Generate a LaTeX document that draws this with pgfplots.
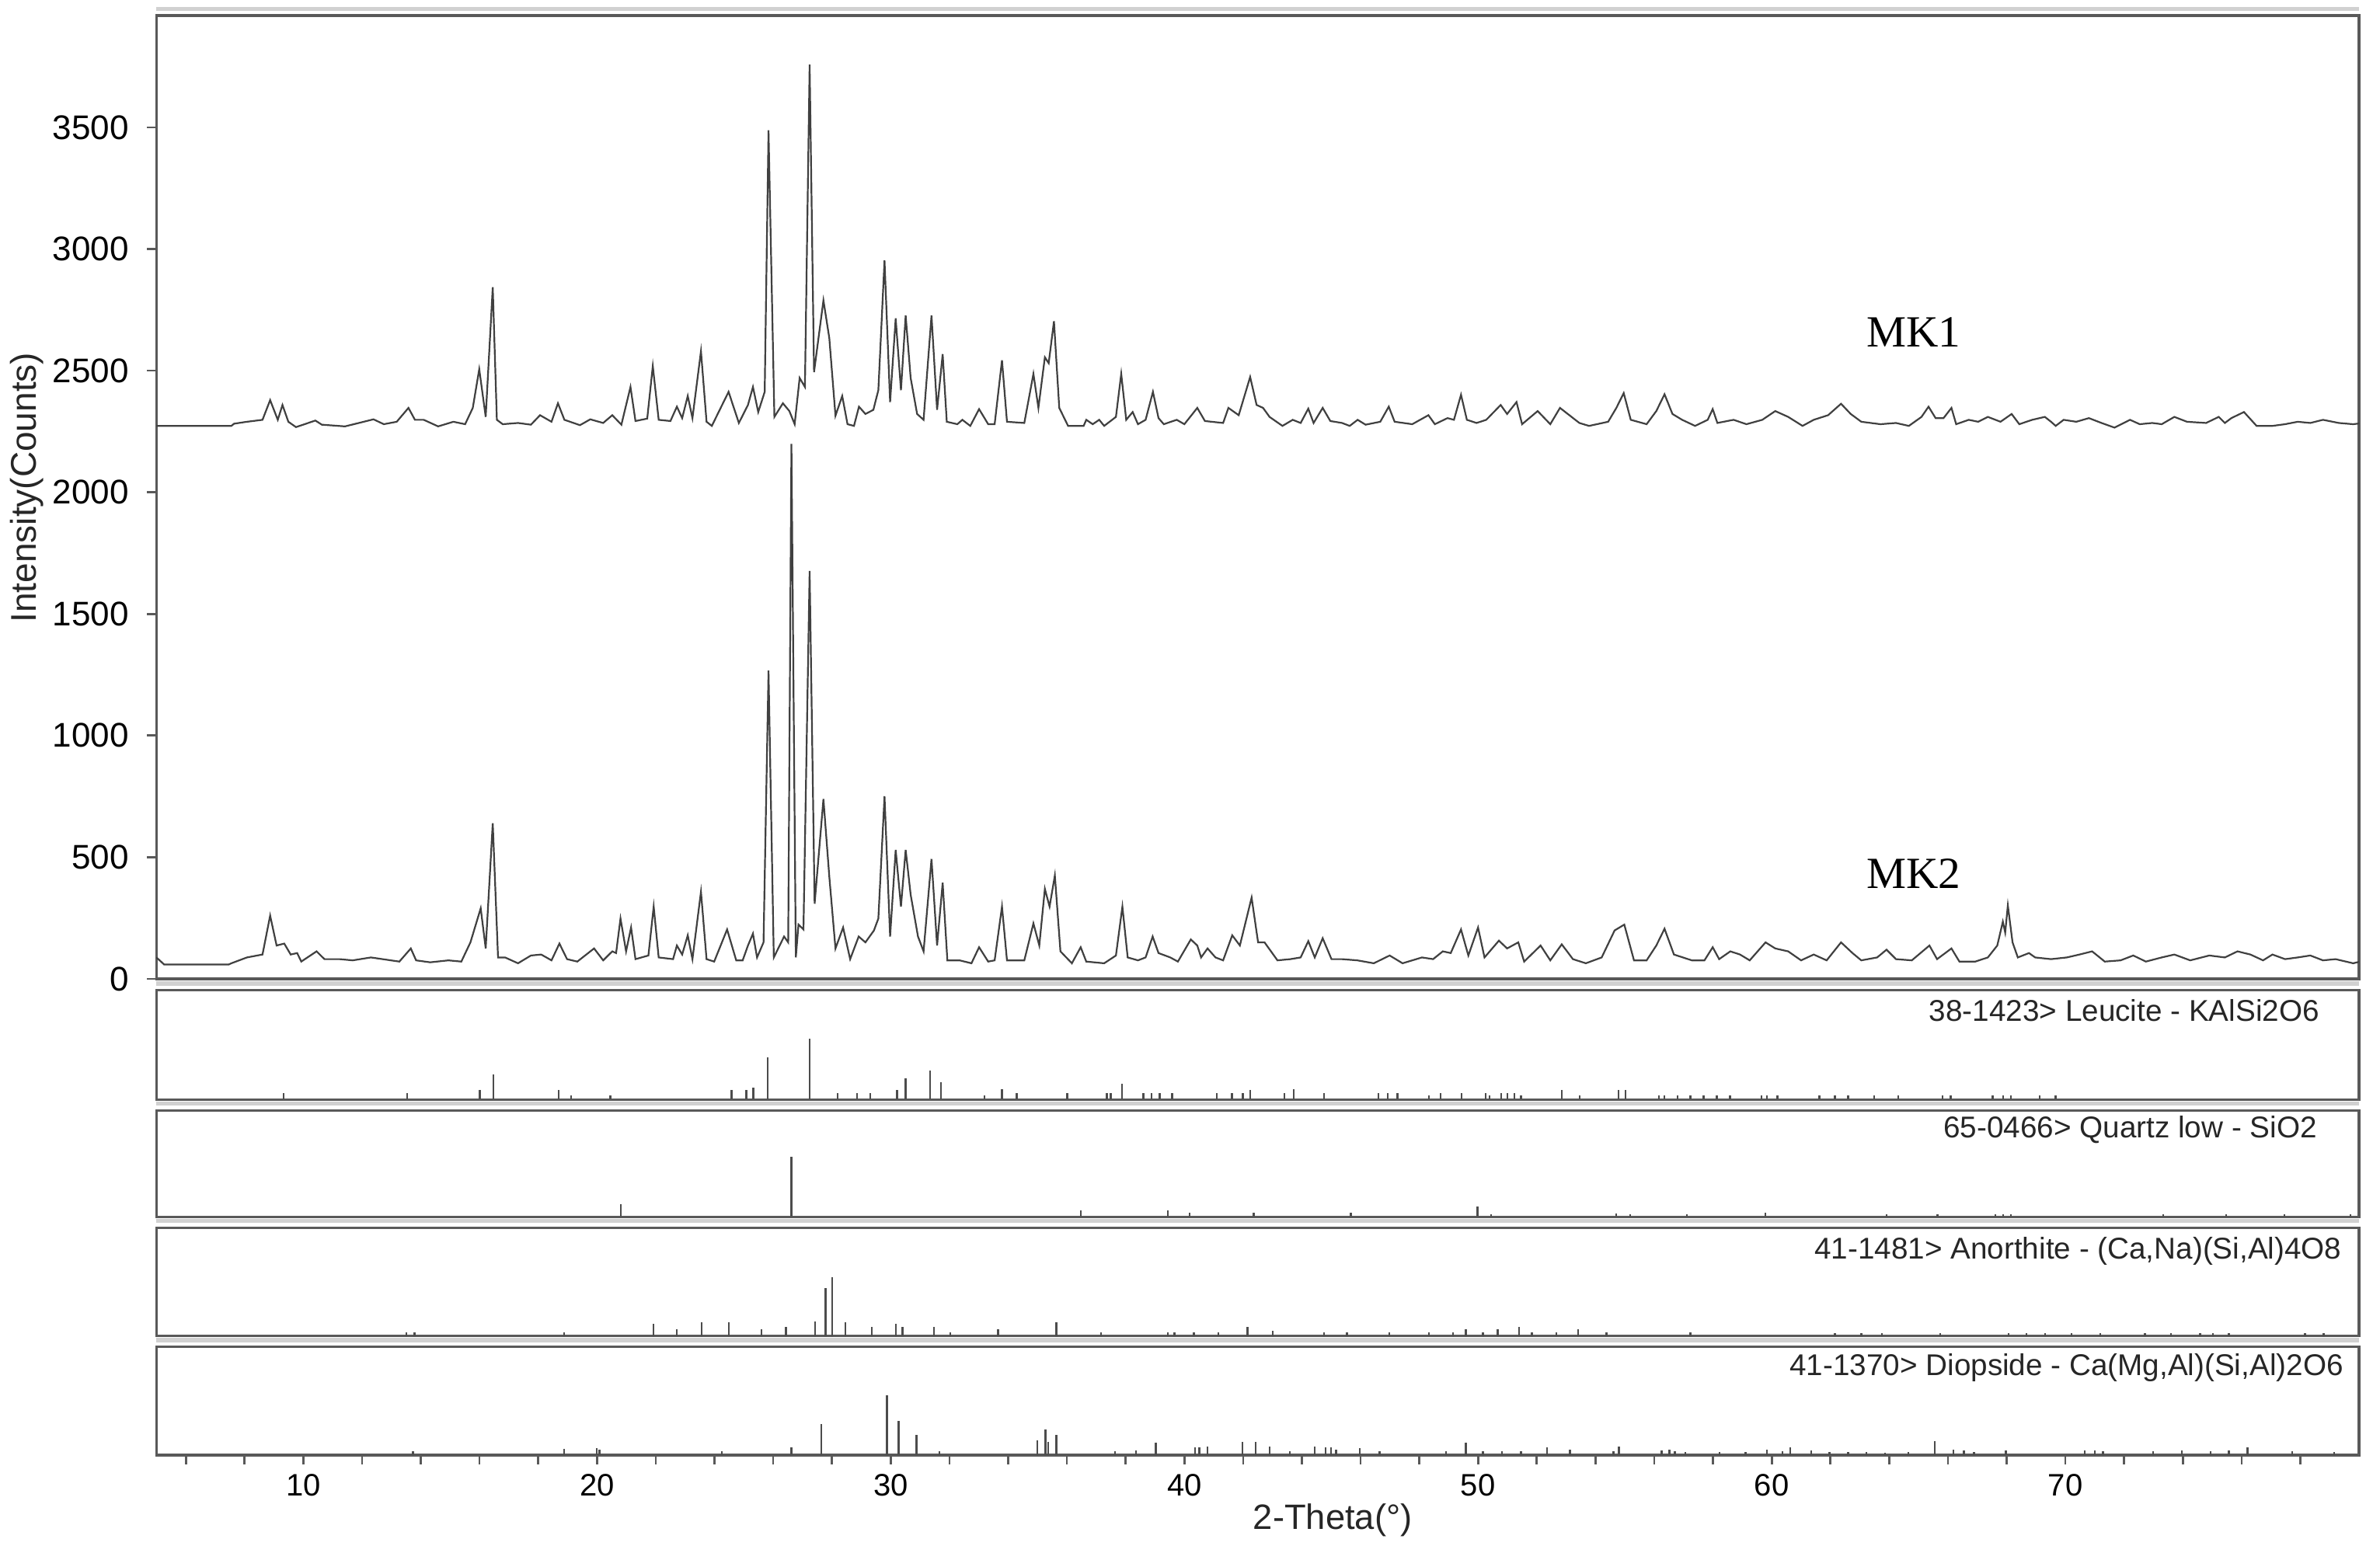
\documentclass[border=0pt]{standalone}
\usepackage{fontspec}
\setmainfont{Liberation Sans}
\newfontfamily\timesfont{Liberation Serif}
\usepackage{pgfplots}
\pgfplotsset{compat=1.18}
\usepackage{pgfplotstable}

% MK1 pattern (counts, shifted up in the original plot)
\pgfplotstableread{
x y
5.00 2273
7.55 2273
7.64 2282
8.08 2290
8.61 2298
8.87 2379
9.13 2298
9.29 2359
9.49 2290
9.75 2268
10.41 2295
10.63 2278
11.42 2271
12.39 2300
12.74 2280
13.18 2290
13.58 2347
13.80 2298
14.10 2298
14.59 2271
15.11 2290
15.51 2280
15.77 2347
15.99 2506
16.21 2310
16.45 2843
16.59 2298
16.79 2280
17.31 2285
17.75 2278
18.06 2317
18.45 2290
18.67 2366
18.89 2298
19.42 2276
19.77 2300
20.21 2285
20.52 2317
20.83 2278
21.14 2433
21.31 2293
21.71 2303
21.90 2519
22.10 2298
22.50 2293
22.72 2352
22.90 2305
23.09 2396
23.25 2305
23.54 2580
23.73 2290
23.91 2273
24.48 2413
24.83 2285
25.14 2359
25.31 2433
25.49 2330
25.71 2413
25.84 3488
26.04 2310
26.33 2366
26.55 2334
26.73 2280
26.90 2470
27.08 2433
27.24 3758
27.39 2494
27.71 2789
27.91 2634
28.12 2315
28.35 2396
28.53 2280
28.75 2273
28.92 2352
29.14 2322
29.41 2339
29.58 2420
29.79 2953
29.98 2371
30.17 2715
30.35 2420
30.51 2727
30.68 2470
30.90 2322
31.12 2298
31.39 2727
31.58 2339
31.77 2568
31.91 2290
32.27 2280
32.44 2298
32.71 2273
33.01 2342
33.32 2280
33.54 2280
33.79 2543
33.96 2290
34.55 2285
34.86 2487
35.03 2347
35.25 2555
35.38 2531
35.56 2703
35.74 2347
36.04 2273
36.57 2273
36.66 2298
36.88 2280
37.10 2298
37.27 2273
37.67 2310
37.85 2487
38.02 2298
38.24 2330
38.42 2280
38.68 2298
38.93 2413
39.12 2305
39.30 2280
39.74 2298
40.00 2280
40.44 2347
40.70 2293
41.32 2285
41.50 2347
41.85 2317
42.24 2474
42.46 2359
42.68 2347
42.90 2310
43.34 2273
43.69 2298
43.96 2285
44.22 2344
44.40 2285
44.71 2347
44.97 2293
45.37 2285
45.63 2273
45.90 2298
46.17 2278
46.67 2290
46.96 2352
47.16 2290
47.76 2280
48.31 2317
48.53 2280
48.96 2305
49.18 2298
49.42 2401
49.62 2298
49.95 2285
50.28 2298
50.77 2359
50.99 2322
51.31 2371
51.50 2280
52.03 2334
52.46 2280
52.79 2347
53.45 2285
53.78 2273
54.43 2290
54.71 2347
54.96 2408
55.20 2298
55.74 2280
56.07 2334
56.35 2403
56.62 2322
56.95 2298
57.39 2273
57.82 2298
57.99 2342
58.15 2285
58.70 2298
59.14 2280
59.68 2298
60.12 2334
60.56 2310
61.05 2273
61.43 2298
61.92 2317
62.36 2364
62.69 2322
63.05 2290
63.70 2280
64.23 2285
64.67 2273
65.10 2310
65.34 2352
65.58 2305
65.85 2305
66.12 2347
66.28 2280
66.71 2298
67.03 2290
67.36 2310
67.79 2290
68.17 2322
68.43 2280
68.87 2298
69.30 2310
69.51 2290
69.67 2273
69.94 2298
70.37 2290
70.80 2305
71.23 2285
71.67 2266
72.20 2298
72.53 2280
72.96 2285
73.28 2280
73.71 2310
74.14 2290
74.79 2285
75.22 2310
75.43 2285
75.65 2305
76.08 2330
76.51 2273
77.05 2273
77.48 2280
77.91 2290
78.34 2285
78.77 2298
79.31 2285
79.80 2280
80.00 2283
}\mkone

% MK2 pattern
\pgfplotstableread{
x y
5.00 88
5.26 59
7.46 59
7.55 64
8.08 88
8.61 100
8.87 260
9.09 137
9.35 145
9.57 100
9.79 106
9.93 71
10.45 113
10.72 81
11.24 81
11.68 76
12.30 88
13.27 71
13.66 125
13.84 76
14.32 68
14.94 76
15.38 71
15.69 150
16.04 290
16.21 125
16.45 640
16.63 88
16.87 88
17.31 64
17.75 96
18.10 100
18.45 76
18.72 145
18.98 81
19.33 71
19.90 125
20.21 76
20.52 113
20.65 106
20.80 248
20.99 113
21.16 211
21.31 81
21.75 96
21.93 297
22.10 88
22.59 81
22.72 137
22.90 100
23.09 179
23.25 81
23.54 358
23.73 81
23.99 71
24.43 203
24.74 76
24.96 76
25.14 137
25.31 186
25.45 88
25.67 150
25.84 1267
26.02 88
26.37 174
26.51 150
26.62 2199
26.77 88
26.86 223
27.03 203
27.24 1677
27.41 309
27.71 739
27.91 420
28.12 125
28.38 211
28.62 81
28.91 174
29.14 150
29.43 199
29.58 248
29.79 751
29.98 174
30.17 530
30.35 297
30.51 530
30.68 346
30.93 174
31.12 113
31.39 493
31.58 137
31.77 395
31.93 76
32.35 76
32.75 64
33.01 130
33.32 71
33.54 76
33.79 297
33.96 76
34.55 76
34.86 228
35.06 137
35.25 370
35.41 297
35.59 425
35.78 113
36.17 64
36.47 130
36.66 71
37.27 64
37.67 96
37.89 297
38.07 88
38.42 76
38.68 88
38.92 174
39.12 106
39.52 88
39.78 71
40.22 162
40.44 137
40.57 88
40.79 125
41.06 88
41.32 76
41.63 179
41.89 137
42.29 334
42.51 150
42.73 150
43.17 76
43.61 81
43.96 88
44.22 155
44.44 88
44.71 167
45.01 81
45.37 81
45.89 76
46.45 64
46.99 96
47.43 64
48.09 88
48.47 81
48.80 113
49.07 106
49.42 203
49.67 96
50.00 211
50.22 88
50.71 157
50.99 125
51.37 150
51.57 71
52.13 137
52.46 76
52.85 142
53.23 81
53.67 64
54.21 88
54.65 199
54.98 223
55.31 76
55.74 76
56.07 137
56.35 206
56.67 100
57.28 76
57.71 76
57.99 130
58.21 81
58.59 113
58.92 100
59.25 76
59.79 150
60.12 125
60.56 113
61.00 76
61.43 100
61.87 76
62.36 150
62.75 106
63.05 76
63.59 88
63.91 120
64.23 81
64.77 76
65.37 137
65.63 81
66.12 125
66.39 71
66.93 71
67.36 88
67.68 137
67.87 235
67.95 190
68.04 302
68.20 150
68.38 88
68.76 106
68.97 88
69.51 81
70.05 88
70.48 100
70.91 113
71.34 71
71.88 76
72.31 96
72.74 71
73.28 88
73.71 100
74.25 76
74.90 96
75.43 88
75.86 113
76.30 100
76.73 76
77.05 100
77.48 81
77.91 88
78.34 96
78.77 76
79.20 81
79.80 64
80.00 70
}\mktwo

% reference patterns, heights in % of panel
\pgfplotstableread{
x y
9.33 5.7
13.53 5.7
16.01 8.4
16.47 22.8
18.69 8.4
19.12 3.4
20.45 3.4
24.58 8.4
25.08 8.4
25.32 11.1
25.82 38.6
27.24 55.4
28.20 5.7
28.85 5.7
29.31 5.7
30.22 8.4
30.51 19.1
31.35 26.2
31.72 16.1
33.20 3.4
33.79 9.1
34.29 5.7
36.01 5.7
37.36 5.7
37.49 5.7
37.88 14.1
38.60 5.7
38.88 5.7
39.16 5.7
39.58 5.7
41.10 5.7
41.62 5.7
41.99 5.7
42.25 8.4
43.41 5.7
43.73 9.1
44.75 5.7
46.60 5.7
46.93 5.7
47.26 5.7
48.32 3.4
48.72 5.7
49.43 5.7
50.26 5.7
50.39 4.0
50.78 5.7
51.00 5.7
51.24 5.7
51.46 3.4
52.85 8.4
53.46 3.4
54.79 8.4
55.02 8.4
56.16 3.4
56.34 3.4
56.79 3.4
57.23 3.4
57.68 3.4
58.13 3.4
58.58 3.4
59.65 3.4
59.83 3.4
60.19 4.0
61.62 3.4
62.15 4.0
62.60 3.4
63.49 3.4
64.30 3.4
65.82 3.4
66.09 3.4
67.52 3.4
67.88 4.0
68.15 3.4
69.13 3.4
69.67 3.4
}\leucite

\pgfplotstableread{
x y
20.82 12.1
26.62 56.2
36.47 6.2
39.43 6.2
40.17 4.1
42.36 4.1
45.67 4.1
49.98 9.3
50.45 2.5
54.70 3.4
55.18 2.0
57.11 2.0
59.79 4.1
63.91 2.0
65.64 2.0
67.61 2.0
67.88 2.0
68.15 2.0
73.33 2.0
75.48 2.0
77.45 2.0
79.70 2.0
}\quartz

\pgfplotstableread{
x y
13.51 3.4
13.79 3.4
18.88 3.4
21.93 11.2
22.71 6.1
23.56 12.5
24.49 12.9
25.60 6.1
26.43 8.5
27.43 13.6
27.78 44.1
28.00 54.2
28.45 12.5
29.35 8.5
30.18 11.2
30.40 8.5
31.48 8.5
32.03 3.4
33.66 6.1
35.64 12.5
37.16 3.4
39.43 3.4
39.66 3.4
40.32 3.4
41.16 3.4
42.15 8.5
43.01 5.0
44.76 3.4
45.54 3.4
46.97 3.4
48.32 3.4
49.15 3.4
49.58 6.1
50.17 3.4
50.67 6.1
51.39 8.5
51.83 3.4
52.67 3.4
53.41 6.1
54.37 3.4
57.23 3.4
62.15 2.4
63.05 2.4
63.76 2.4
65.73 2.4
68.06 2.4
68.68 2.4
69.31 2.4
70.20 2.4
71.19 2.4
72.71 2.4
73.60 2.4
74.59 2.4
75.03 2.4
75.57 2.4
78.16 2.4
78.79 2.4
}\anorthite

\pgfplotstableread{
x y
13.73 3.4
18.88 5.8
19.99 6.1
20.08 5.1
24.25 3.4
26.62 6.8
27.63 28.8
29.87 54.9
30.27 31.5
30.88 18.6
31.66 3.4
34.99 13.6
35.27 23.7
35.36 11.9
35.64 18.6
37.64 3.4
38.36 4.1
39.03 11.2
40.36 6.8
40.51 6.8
40.79 7.8
41.97 11.9
42.43 11.9
42.91 7.8
43.60 3.4
44.43 7.8
44.80 6.8
44.99 6.8
45.17 5.1
45.97 6.1
46.65 3.4
48.91 3.4
49.58 11.2
50.17 3.4
50.82 3.4
51.46 3.4
52.35 6.8
53.13 5.1
54.61 3.4
54.80 7.8
56.25 4.1
56.52 5.1
56.70 3.4
57.05 2.7
58.22 2.7
59.11 2.7
59.83 5.1
60.36 3.4
60.63 6.8
61.35 4.1
61.97 2.7
62.60 2.7
63.23 2.7
63.85 1.7
64.66 2.7
65.55 12.5
66.18 5.1
66.54 4.1
66.89 2.7
67.97 4.1
70.65 4.1
71.01 4.1
71.28 3.4
72.98 3.4
73.96 4.1
74.94 3.4
75.57 4.1
76.20 6.8
77.72 3.4
79.15 2.7
}\diopside

\pgfplotsset{
  xrdframe/.style={
    scale only axis, width=425.2pt, xmin=5, xmax=80,
    anchor=south west, clip=false,
    axis line style={black!65, line width=0.5pt},
    tick style={black!65, line width=0.4pt},
    tick align=outside,
    major tick length=1.8pt, minor tick length=1.8pt,
    /pgf/number format/assume math mode=true,
    /pgf/number format/1000 sep={},
  },
  refpanel/.style={xrdframe, ymin=0, ymax=100, ytick=\empty, xtick=\empty},
  sticks/.style={ycomb, no marks, black!70, line width=0.35pt},
  xrdline/.style={no marks, black!75, line width=0.33pt},
}
\tikzset{cardlabel/.style={anchor=east, inner sep=0pt, font=\fontsize{5.8}{7}\selectfont, black!85}}
\newcommand{\topshade}{\draw[black!18, line width=0.8pt] ([yshift=1.3pt]rel axis cs:0,1) -- ([yshift=1.3pt]rel axis cs:1,1);}

\begin{document}
\begin{tikzpicture}
\path[use as bounding box] (0,0) rectangle (459.45pt,298.5pt);

\begin{axis}[xrdframe, at={(30.21pt,109.5pt)}, height=186pt,
  ymin=0, ymax=3960, xtick=\empty,
  ytick={0,500,...,3500}, ytick pos=left, scaled y ticks=false,
  yticklabel style={font=\fontsize{6.6}{8}\selectfont},
  ylabel={Intensity(Counts)},
  ylabel style={at={(axis description cs:-0.0587,0.51)}, anchor=center,
    font=\fontsize{6.9}{8}\selectfont, black!85}]
\addplot[xrdline] table {\mkone};
\addplot[xrdline] table {\mktwo};
\node[font=\timesfont\fontsize{8.6}{10}\selectfont] at (axis cs:64.84,2657) {MK1};
\node[font=\timesfont\fontsize{8.6}{10}\selectfont] at (axis cs:64.84,431) {MK2};
\topshade
\end{axis}

\begin{axis}[refpanel, at={(30.21pt,86.22pt)}, height=21.1pt]
\addplot[sticks] table {\leucite};
\node[cardlabel] at (rel axis cs:0.9824,0.815) {38-1423> Leucite - KAlSi2O6};
\topshade
\end{axis}

\begin{axis}[refpanel, at={(30.21pt,63.57pt)}, height=20.53pt]
\addplot[sticks] table {\quartz};
\node[cardlabel] at (rel axis cs:0.9813,0.818) {65-0466> Quartz low - SiO2};
\topshade
\end{axis}

\begin{axis}[refpanel, at={(30.21pt,40.56pt)}, height=20.9pt]
\addplot[sticks] table {\anorthite};
\node[cardlabel] at (rel axis cs:0.9925,0.784) {41-1481> Anorthite - (Ca,Na)(Si,Al)4O8};
\topshade
\end{axis}

\begin{axis}[refpanel, at={(30.21pt,17.57pt)}, height=20.88pt,
  xtick={10,20,...,70}, minor xtick={6,8,...,78}, xtick pos=left,
  xticklabel style={font=\fontsize{6}{7}\selectfont, yshift=1.6pt},
  xlabel={2-Theta(°)},
  xlabel style={at={(axis description cs:0.534,-0.604)}, anchor=center,
    font=\fontsize{6.8}{8}\selectfont, black!85}]
\addplot[sticks] table {\diopside};
\node[cardlabel] at (rel axis cs:0.9933,0.806) {41-1370> Diopside - Ca(Mg,Al)(Si,Al)2O6};
\topshade
\end{axis}
\end{tikzpicture}
\end{document}
